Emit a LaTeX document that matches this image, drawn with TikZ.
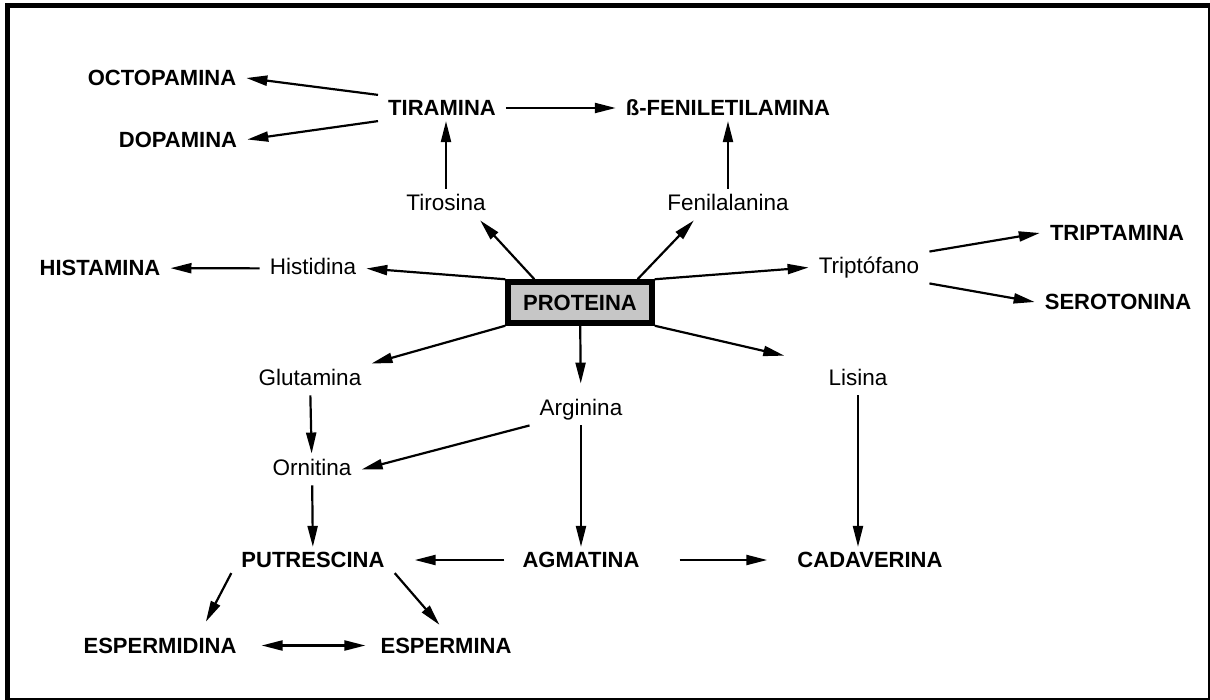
\documentclass[tikz,border=0pt]{standalone}
\usepackage{fontspec}
\setmainfont{Liberation Sans}
\usetikzlibrary{arrows.meta}

\begin{document}
\begin{tikzpicture}[x=1pt,y=-1pt,
    amina/.style={font=\bfseries\fontsize{22}{24}\selectfont,
      inner xsep=10pt, inner ysep=5pt, text height=15.8pt, text depth=0pt},
    acido/.style={font=\fontsize{22.5}{26}\selectfont,
      inner xsep=10pt, inner ysep=5pt, text height=16.5pt, text depth=5pt},
    arr/.style={-{Triangle[length=21pt,width=10pt]}, line width=2.2pt},
    ]
    \useasboundingbox (0,0) rectangle (1210,700);
    \fill (5,3) rectangle (1210,8);
    \fill (5,3) rectangle (10,700);
    \draw[line width=1.5pt] (1209,3) -- (1209,699) -- (5,699);

    \node[amina] (octo) at (162,78) {OCTOPAMINA};
    \node[amina] (dopa) at (178,139.5) {DOPAMINA};
    \node[amina] (tira) at (442,108) {TIRAMINA};
    \node[amina] (feni) at (728,108) {ß-FENILETILAMINA};
    \node[acido] (tiro) at (446,204.5) {Tirosina};
    \node[acido] (fala) at (728,204.5) {Fenilalanina};
    \node[amina] (hista) at (100,268) {HISTAMINA};
    \node[acido] (hist) at (313,268.5) {Histidina};
    \node[draw, line width=5.5pt, fill=gray!45, minimum width=144pt,
      minimum height=41pt, font=\bfseries\fontsize{22}{24}\selectfont]
      (prot) at (580,302.5) {PROTEINA};
    \node[acido] (trip) at (869,267.5) {Triptófano};
    \node[amina] (tripta) at (1117,233) {TRIPTAMINA};
    \node[amina] (sero) at (1118,302) {SEROTONINA};
    \node[acido] (glut) at (310,379.5) {Glutamina};
    \node[acido] (lis) at (858,379.5) {Lisina};
    \node[acido] (arg) at (581,409.5) {Arginina};
    \node[acido] (orn) at (312,469.5) {Ornitina};
    \node[amina] (put) at (313,560) {PUTRESCINA};
    \node[amina] (agm) at (581,560) {AGMATINA};
    \node[amina] (cad) at (870,560) {CADAVERINA};
    \node[amina] (espd) at (160,645.5) {ESPERMIDINA};
    \node[amina] (espm) at (446,645.5) {ESPERMINA};

    \draw[arr] (tira.north west) -- (octo.east);
    \draw[arr] (tira.south west) -- (dopa.east);
    \draw[arr] (tira) -- (feni);
    \draw[arr] (tiro) -- (tiro |- tira.south);
    \draw[arr] (fala) -- (fala |- feni.south);
    \draw[arr] (prot.153) -- (tiro.-25);
    \draw[arr] (prot.22) -- (fala.205);
    \draw[arr] (prot.north west) -- (hist.east);
    \draw[arr] (hist) -- (hista);
    \draw[arr] (prot.north east) -- (trip.west);
    \draw[arr] (trip.north east) -- (tripta.west);
    \draw[arr] (trip.south east) -- (sero.west);
    \draw[arr] (prot.south west) -- (glut.north east);
    \draw[arr, shorten >=35pt] (prot.south east) -- (lis.north west);
    \draw[arr, shorten >=10pt] (prot) -- (arg);
    \draw[arr] (glut) -- (orn);
    \draw[arr] (arg.south west) -- (orn.east);
    \draw[arr] (orn) -- (put);
    \draw[arr] (arg) -- (agm);
    \draw[arr] (lis) -- (lis |- cad.north);
    \draw[arr, shorten <=8pt, shorten >=20pt] (agm) -- (put);
    \draw[arr, shorten <=30pt, shorten >=20pt] (agm) -- (cad);
    \draw[arr, shorten >=12pt] (put.south west) -- (espd.18);
    \draw[arr, shorten >=10pt] (put.south east) -- (espm.north);
    \draw[arr, {Triangle[length=21pt,width=10pt]}-{Triangle[length=21pt,width=10pt]},
      shorten <=15pt, shorten >=5pt] (espd) -- (espm);
\end{tikzpicture}
\end{document}
